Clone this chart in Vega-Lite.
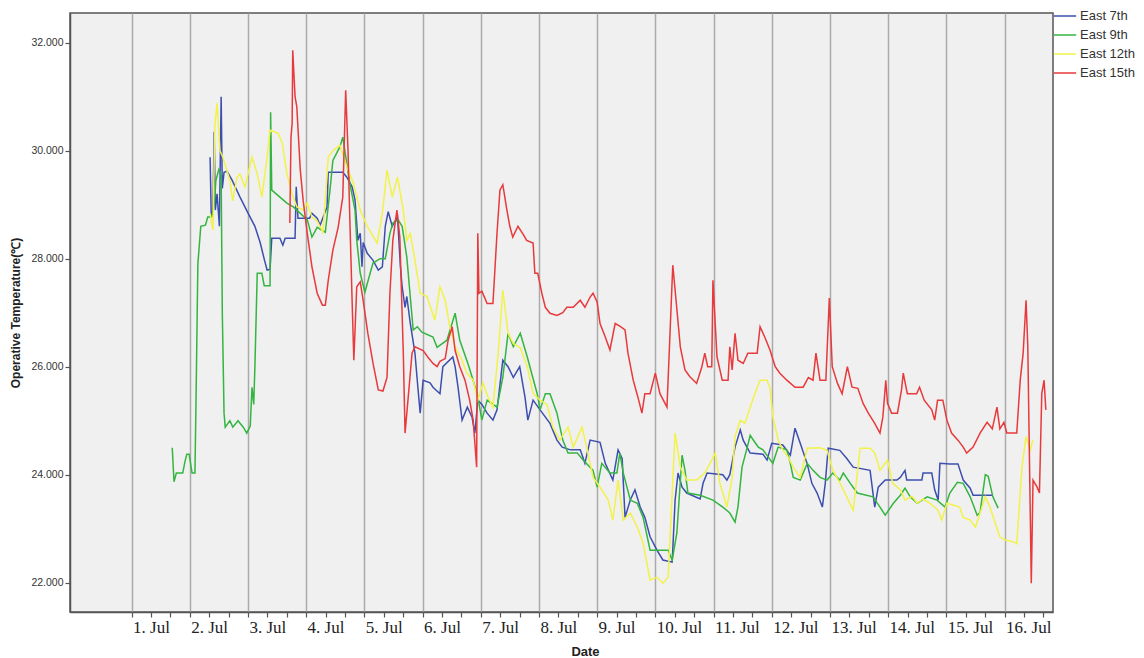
{
  "$schema": "https://vega.github.io/schema/vega-lite/v6.json",
  "width": 983,
  "height": 599,
  "autosize": {"type": "none"},
  "padding": {"left": 70, "top": 13, "right": 91, "bottom": 46},
  "background": "#ffffff",
  "config": {
    "view": {"fill": "#F0F0F0", "stroke": "#555555", "strokeWidth": 1.5},
    "axis": {"domainColor": "#555555", "tickColor": "#555555", "domainWidth": 1.5}
  },
  "data": {"values": [
    {"series":"East 7th","day":2.35,"temp":29.88},{"series":"East 7th","day":2.37,"temp":28.8},{"series":"East 7th","day":2.40,"temp":28.9},{"series":"East 7th","day":2.42,"temp":30.35},{"series":"East 7th","day":2.44,"temp":28.9},{"series":"East 7th","day":2.47,"temp":29.2},{"series":"East 7th","day":2.51,"temp":28.6},{"series":"East 7th","day":2.54,"temp":31.0},{"series":"East 7th","day":2.56,"temp":29.3},{"series":"East 7th","day":2.59,"temp":29.6},{"series":"East 7th","day":2.64,"temp":29.62},{"series":"East 7th","day":2.73,"temp":29.45},{"series":"East 7th","day":2.86,"temp":29.15},{"series":"East 7th","day":3.00,"temp":28.85},{"series":"East 7th","day":3.12,"temp":28.6},{"series":"East 7th","day":3.21,"temp":28.3},{"series":"East 7th","day":3.29,"temp":27.95},{"series":"East 7th","day":3.33,"temp":27.79},{"series":"East 7th","day":3.38,"temp":27.8},{"series":"East 7th","day":3.41,"temp":28.38},{"series":"East 7th","day":3.55,"temp":28.38},{"series":"East 7th","day":3.60,"temp":28.25},{"series":"East 7th","day":3.64,"temp":28.38},{"series":"East 7th","day":3.81,"temp":28.38},{"series":"East 7th","day":3.83,"temp":29.33},{"series":"East 7th","day":3.86,"temp":28.75},{"series":"East 7th","day":4.06,"temp":28.75},{"series":"East 7th","day":4.10,"temp":28.84},{"series":"East 7th","day":4.19,"temp":28.75},{"series":"East 7th","day":4.24,"temp":28.62},{"series":"East 7th","day":4.36,"temp":28.96},{"series":"East 7th","day":4.38,"temp":29.6},{"series":"East 7th","day":4.63,"temp":29.6},{"series":"East 7th","day":4.70,"temp":29.51},{"series":"East 7th","day":4.79,"temp":29.33},{"series":"East 7th","day":4.84,"temp":29.09},{"series":"East 7th","day":4.89,"temp":28.34},{"series":"East 7th","day":4.93,"temp":28.47},{"series":"East 7th","day":4.96,"temp":27.85},{"series":"East 7th","day":4.98,"temp":28.3},{"series":"East 7th","day":5.05,"temp":28.1},{"series":"East 7th","day":5.15,"temp":27.97},{"series":"East 7th","day":5.24,"temp":27.79},{"series":"East 7th","day":5.31,"temp":27.85},{"series":"East 7th","day":5.36,"temp":28.6},{"series":"East 7th","day":5.41,"temp":28.87},{"series":"East 7th","day":5.48,"temp":28.6},{"series":"East 7th","day":5.57,"temp":28.78},{"series":"East 7th","day":5.62,"temp":27.85},{"series":"East 7th","day":5.65,"temp":27.48},{"series":"East 7th","day":5.70,"temp":27.1},{"series":"East 7th","day":5.73,"temp":27.3},{"series":"East 7th","day":5.79,"temp":26.8},{"series":"East 7th","day":5.87,"temp":26.25},{"series":"East 7th","day":5.92,"temp":25.62},{"series":"East 7th","day":5.96,"temp":25.14},{"series":"East 7th","day":6.01,"temp":25.75},{"series":"East 7th","day":6.13,"temp":25.7},{"series":"East 7th","day":6.18,"temp":25.62},{"series":"East 7th","day":6.30,"temp":25.5},{"series":"East 7th","day":6.35,"temp":26.0},{"series":"East 7th","day":6.52,"temp":26.18},{"series":"East 7th","day":6.56,"temp":26.0},{"series":"East 7th","day":6.61,"temp":25.62},{"series":"East 7th","day":6.68,"temp":25.01},{"series":"East 7th","day":6.77,"temp":25.25},{"series":"East 7th","day":6.85,"temp":25.07},{"series":"East 7th","day":6.90,"temp":24.77},{"series":"East 7th","day":6.95,"temp":25.38},{"series":"East 7th","day":7.02,"temp":25.3},{"series":"East 7th","day":7.11,"temp":25.14},{"series":"East 7th","day":7.21,"temp":25.01},{"series":"East 7th","day":7.28,"temp":25.2},{"series":"East 7th","day":7.38,"temp":26.12},{"series":"East 7th","day":7.47,"temp":26.0},{"series":"East 7th","day":7.56,"temp":25.8},{"series":"East 7th","day":7.67,"temp":26.0},{"series":"East 7th","day":7.76,"temp":25.44},{"series":"East 7th","day":7.81,"temp":25.01},{"series":"East 7th","day":7.90,"temp":25.38},{"series":"East 7th","day":8.02,"temp":25.2},{"series":"East 7th","day":8.19,"temp":24.95},{"series":"East 7th","day":8.31,"temp":24.64},{"series":"East 7th","day":8.40,"temp":24.51},{"series":"East 7th","day":8.54,"temp":24.46},{"series":"East 7th","day":8.71,"temp":24.46},{"series":"East 7th","day":8.79,"temp":24.21},{"series":"East 7th","day":8.88,"temp":24.64},{"series":"East 7th","day":9.05,"temp":24.6},{"series":"East 7th","day":9.14,"temp":24.21},{"series":"East 7th","day":9.27,"temp":23.9},{"series":"East 7th","day":9.36,"temp":24.46},{"series":"East 7th","day":9.43,"temp":24.3},{"series":"East 7th","day":9.48,"temp":23.21},{"series":"East 7th","day":9.57,"temp":23.53},{"series":"East 7th","day":9.65,"temp":23.72},{"series":"East 7th","day":9.74,"temp":23.4},{"series":"East 7th","day":9.82,"temp":23.21},{"series":"East 7th","day":9.91,"temp":22.85},{"series":"East 7th","day":10.03,"temp":22.6},{"series":"East 7th","day":10.13,"temp":22.42},{"series":"East 7th","day":10.29,"temp":22.38},{"series":"East 7th","day":10.34,"temp":23.53},{"series":"East 7th","day":10.39,"temp":24.03},{"series":"East 7th","day":10.46,"temp":23.77},{"series":"East 7th","day":10.54,"temp":23.66},{"series":"East 7th","day":10.77,"temp":23.55},{"series":"East 7th","day":10.82,"temp":23.84},{"series":"East 7th","day":10.89,"temp":24.03},{"series":"East 7th","day":11.16,"temp":24.0},{"series":"East 7th","day":11.23,"temp":23.9},{"series":"East 7th","day":11.28,"temp":24.0},{"series":"East 7th","day":11.37,"temp":24.51},{"series":"East 7th","day":11.46,"temp":24.83},{"series":"East 7th","day":11.51,"temp":24.64},{"series":"East 7th","day":11.63,"temp":24.4},{"series":"East 7th","day":11.85,"temp":24.38},{"series":"East 7th","day":11.92,"temp":24.27},{"series":"East 7th","day":12.00,"temp":24.58},{"series":"East 7th","day":12.19,"temp":24.55},{"series":"East 7th","day":12.32,"temp":24.36},{"series":"East 7th","day":12.40,"temp":24.86},{"series":"East 7th","day":12.49,"temp":24.58},{"series":"East 7th","day":12.61,"temp":24.2},{"series":"East 7th","day":12.69,"temp":23.84},{"series":"East 7th","day":12.78,"temp":23.66},{"series":"East 7th","day":12.87,"temp":23.4},{"series":"East 7th","day":12.92,"temp":23.84},{"series":"East 7th","day":12.97,"temp":24.49},{"series":"East 7th","day":13.17,"temp":24.45},{"series":"East 7th","day":13.29,"temp":24.3},{"series":"East 7th","day":13.40,"temp":24.14},{"series":"East 7th","day":13.69,"temp":24.08},{"series":"East 7th","day":13.77,"temp":23.4},{"series":"East 7th","day":13.83,"temp":23.77},{"series":"East 7th","day":13.95,"temp":23.9},{"series":"East 7th","day":14.15,"temp":23.9},{"series":"East 7th","day":14.21,"temp":23.95},{"series":"East 7th","day":14.29,"temp":24.08},{"series":"East 7th","day":14.32,"temp":23.9},{"series":"East 7th","day":14.58,"temp":23.9},{"series":"East 7th","day":14.60,"temp":24.03},{"series":"East 7th","day":14.75,"temp":24.03},{"series":"East 7th","day":14.80,"temp":23.72},{"series":"East 7th","day":14.86,"temp":23.53},{"series":"East 7th","day":14.89,"temp":24.21},{"series":"East 7th","day":15.06,"temp":24.2},{"series":"East 7th","day":15.20,"temp":24.2},{"series":"East 7th","day":15.29,"temp":23.9},{"series":"East 7th","day":15.41,"temp":23.75},{"series":"East 7th","day":15.46,"temp":23.62},{"series":"East 7th","day":15.80,"temp":23.62},

    {"series":"East 9th","day":1.70,"temp":24.5},{"series":"East 9th","day":1.73,"temp":23.87},{"series":"East 9th","day":1.77,"temp":24.03},{"series":"East 9th","day":1.88,"temp":24.03},{"series":"East 9th","day":1.92,"temp":24.25},{"series":"East 9th","day":1.95,"temp":24.38},{"series":"East 9th","day":1.99,"temp":24.38},{"series":"East 9th","day":2.04,"temp":24.03},{"series":"East 9th","day":2.09,"temp":24.03},{"series":"East 9th","day":2.11,"temp":25.5},{"series":"East 9th","day":2.14,"temp":27.9},{"series":"East 9th","day":2.19,"temp":28.6},{"series":"East 9th","day":2.27,"temp":28.62},{"series":"East 9th","day":2.31,"temp":28.77},{"series":"East 9th","day":2.38,"temp":28.77},{"series":"East 9th","day":2.42,"temp":29.0},{"series":"East 9th","day":2.45,"temp":29.45},{"series":"East 9th","day":2.50,"temp":29.65},{"series":"East 9th","day":2.54,"temp":29.55},{"series":"East 9th","day":2.56,"temp":27.0},{"series":"East 9th","day":2.59,"temp":25.14},{"series":"East 9th","day":2.61,"temp":24.88},{"series":"East 9th","day":2.69,"temp":25.0},{"series":"East 9th","day":2.74,"temp":24.88},{"series":"East 9th","day":2.83,"temp":25.0},{"series":"East 9th","day":2.92,"temp":24.88},{"series":"East 9th","day":2.98,"temp":24.77},{"series":"East 9th","day":3.04,"temp":24.9},{"series":"East 9th","day":3.07,"temp":25.62},{"series":"East 9th","day":3.10,"temp":25.3},{"series":"East 9th","day":3.12,"temp":26.0},{"series":"East 9th","day":3.16,"temp":27.73},{"series":"East 9th","day":3.24,"temp":27.73},{"series":"East 9th","day":3.28,"temp":27.5},{"series":"East 9th","day":3.38,"temp":27.5},{"series":"East 9th","day":3.39,"temp":30.71},{"series":"East 9th","day":3.41,"temp":29.27},{"series":"East 9th","day":3.55,"temp":29.14},{"series":"East 9th","day":3.67,"temp":29.03},{"series":"East 9th","day":3.78,"temp":28.96},{"series":"East 9th","day":3.90,"temp":28.84},{"series":"East 9th","day":4.02,"temp":28.72},{"series":"East 9th","day":4.10,"temp":28.4},{"series":"East 9th","day":4.19,"temp":28.58},{"series":"East 9th","day":4.33,"temp":28.49},{"series":"East 9th","day":4.41,"temp":29.27},{"series":"East 9th","day":4.46,"temp":29.82},{"series":"East 9th","day":4.58,"temp":30.07},{"series":"East 9th","day":4.63,"temp":30.25},{"series":"East 9th","day":4.75,"temp":29.4},{"series":"East 9th","day":4.84,"temp":28.9},{"series":"East 9th","day":4.87,"temp":28.34},{"series":"East 9th","day":4.93,"temp":27.73},{"series":"East 9th","day":5.01,"temp":27.38},{"series":"East 9th","day":5.10,"temp":27.73},{"series":"East 9th","day":5.15,"temp":27.92},{"series":"East 9th","day":5.27,"temp":28.0},{"series":"East 9th","day":5.36,"temp":28.0},{"series":"East 9th","day":5.44,"temp":28.47},{"series":"East 9th","day":5.49,"temp":28.66},{"series":"East 9th","day":5.58,"temp":28.72},{"series":"East 9th","day":5.65,"temp":28.6},{"series":"East 9th","day":5.73,"temp":28.03},{"series":"East 9th","day":5.79,"temp":27.29},{"series":"East 9th","day":5.84,"temp":26.68},{"series":"East 9th","day":5.91,"temp":26.74},{"series":"East 9th","day":5.99,"temp":26.64},{"series":"East 9th","day":6.18,"temp":26.55},{"series":"East 9th","day":6.25,"temp":26.36},{"series":"East 9th","day":6.42,"temp":26.49},{"series":"East 9th","day":6.56,"temp":26.99},{"series":"East 9th","day":6.64,"temp":26.49},{"series":"East 9th","day":6.78,"temp":26.06},{"series":"East 9th","day":6.94,"temp":25.5},{"series":"East 9th","day":7.02,"temp":25.01},{"series":"East 9th","day":7.11,"temp":25.38},{"series":"East 9th","day":7.28,"temp":25.25},{"series":"East 9th","day":7.38,"temp":25.8},{"series":"East 9th","day":7.47,"temp":26.62},{"series":"East 9th","day":7.56,"temp":26.37},{"series":"East 9th","day":7.68,"temp":26.62},{"series":"East 9th","day":7.80,"temp":26.18},{"series":"East 9th","day":7.97,"temp":25.5},{"series":"East 9th","day":8.02,"temp":25.2},{"series":"East 9th","day":8.11,"temp":25.5},{"series":"East 9th","day":8.19,"temp":25.5},{"series":"East 9th","day":8.31,"temp":25.14},{"series":"East 9th","day":8.41,"temp":24.64},{"series":"East 9th","day":8.50,"temp":24.4},{"series":"East 9th","day":8.66,"temp":24.4},{"series":"East 9th","day":8.76,"temp":24.27},{"series":"East 9th","day":8.93,"temp":24.08},{"series":"East 9th","day":9.00,"temp":23.77},{"series":"East 9th","day":9.08,"temp":24.21},{"series":"East 9th","day":9.22,"temp":24.03},{"series":"East 9th","day":9.34,"temp":24.03},{"series":"East 9th","day":9.39,"temp":24.4},{"series":"East 9th","day":9.45,"temp":24.03},{"series":"East 9th","day":9.57,"temp":23.53},{"series":"East 9th","day":9.69,"temp":23.47},{"series":"East 9th","day":9.79,"temp":23.21},{"series":"East 9th","day":9.91,"temp":22.6},{"series":"East 9th","day":10.08,"temp":22.6},{"series":"East 9th","day":10.22,"temp":22.6},{"series":"East 9th","day":10.29,"temp":22.42},{"series":"East 9th","day":10.37,"temp":22.92},{"series":"East 9th","day":10.46,"temp":24.36},{"series":"East 9th","day":10.51,"temp":24.08},{"series":"East 9th","day":10.56,"temp":23.66},{"series":"East 9th","day":10.77,"temp":23.62},{"series":"East 9th","day":10.99,"temp":23.53},{"series":"East 9th","day":11.16,"temp":23.4},{"series":"East 9th","day":11.28,"temp":23.29},{"series":"East 9th","day":11.37,"temp":23.12},{"series":"East 9th","day":11.42,"temp":23.4},{"series":"East 9th","day":11.49,"temp":24.14},{"series":"East 9th","day":11.58,"temp":24.51},{"series":"East 9th","day":11.63,"temp":24.73},{"series":"East 9th","day":11.71,"temp":24.6},{"series":"East 9th","day":11.77,"temp":24.51},{"series":"East 9th","day":11.85,"temp":24.46},{"series":"East 9th","day":12.02,"temp":24.21},{"series":"East 9th","day":12.11,"temp":24.51},{"series":"East 9th","day":12.26,"temp":24.46},{"series":"East 9th","day":12.32,"temp":24.21},{"series":"East 9th","day":12.37,"temp":23.95},{"series":"East 9th","day":12.49,"temp":23.9},{"series":"East 9th","day":12.61,"temp":24.21},{"series":"East 9th","day":12.71,"temp":24.08},{"series":"East 9th","day":12.83,"temp":23.95},{"series":"East 9th","day":12.95,"temp":23.9},{"series":"East 9th","day":13.05,"temp":24.03},{"series":"East 9th","day":13.17,"temp":23.9},{"series":"East 9th","day":13.23,"temp":24.03},{"series":"East 9th","day":13.35,"temp":23.84},{"series":"East 9th","day":13.47,"temp":23.66},{"series":"East 9th","day":13.74,"temp":23.59},{"series":"East 9th","day":13.86,"temp":23.4},{"series":"East 9th","day":13.95,"temp":23.25},{"series":"East 9th","day":14.09,"temp":23.47},{"series":"East 9th","day":14.21,"temp":23.62},{"series":"East 9th","day":14.29,"temp":23.75},{"series":"East 9th","day":14.38,"temp":23.59},{"series":"East 9th","day":14.50,"temp":23.47},{"series":"East 9th","day":14.67,"temp":23.59},{"series":"East 9th","day":14.84,"temp":23.53},{"series":"East 9th","day":14.98,"temp":23.4},{"series":"East 9th","day":15.06,"temp":23.66},{"series":"East 9th","day":15.19,"temp":23.86},{"series":"East 9th","day":15.29,"temp":23.84},{"series":"East 9th","day":15.41,"temp":23.59},{"series":"East 9th","day":15.53,"temp":23.25},{"series":"East 9th","day":15.58,"temp":23.3},{"series":"East 9th","day":15.67,"temp":24.0},{"series":"East 9th","day":15.72,"temp":23.97},{"series":"East 9th","day":15.80,"temp":23.59},{"series":"East 9th","day":15.89,"temp":23.38},

    {"series":"East 12th","day":2.35,"temp":28.84},{"series":"East 12th","day":2.40,"temp":28.53},{"series":"East 12th","day":2.43,"temp":30.44},{"series":"East 12th","day":2.47,"temp":30.88},{"series":"East 12th","day":2.52,"temp":30.0},{"series":"East 12th","day":2.57,"temp":29.88},{"series":"East 12th","day":2.69,"temp":29.45},{"series":"East 12th","day":2.74,"temp":29.07},{"series":"East 12th","day":2.81,"temp":29.5},{"series":"East 12th","day":2.86,"temp":29.57},{"series":"East 12th","day":2.95,"temp":29.33},{"series":"East 12th","day":3.07,"temp":29.88},{"series":"East 12th","day":3.16,"temp":29.57},{"series":"East 12th","day":3.24,"temp":29.14},{"series":"East 12th","day":3.33,"temp":29.88},{"series":"East 12th","day":3.38,"temp":30.38},{"series":"East 12th","day":3.52,"temp":30.32},{"series":"East 12th","day":3.59,"temp":30.14},{"series":"East 12th","day":3.67,"temp":29.57},{"series":"East 12th","day":3.76,"temp":29.2},{"series":"East 12th","day":3.84,"temp":28.96},{"series":"East 12th","day":3.95,"temp":28.9},{"series":"East 12th","day":4.02,"temp":29.03},{"series":"East 12th","day":4.10,"temp":28.77},{"series":"East 12th","day":4.19,"temp":28.7},{"series":"East 12th","day":4.29,"temp":28.49},{"series":"East 12th","day":4.38,"temp":29.88},{"series":"East 12th","day":4.46,"temp":30.0},{"series":"East 12th","day":4.58,"temp":30.1},{"series":"East 12th","day":4.70,"temp":29.7},{"series":"East 12th","day":4.81,"temp":29.4},{"series":"East 12th","day":4.93,"temp":28.9},{"series":"East 12th","day":5.05,"temp":28.6},{"series":"East 12th","day":5.22,"temp":28.29},{"series":"East 12th","day":5.31,"temp":28.84},{"series":"East 12th","day":5.39,"temp":29.64},{"series":"East 12th","day":5.48,"temp":29.14},{"series":"East 12th","day":5.57,"temp":29.51},{"series":"East 12th","day":5.67,"temp":28.9},{"series":"East 12th","day":5.73,"temp":28.34},{"series":"East 12th","day":5.79,"temp":28.47},{"series":"East 12th","day":5.87,"temp":27.97},{"series":"East 12th","day":5.96,"temp":27.36},{"series":"East 12th","day":6.08,"temp":27.3},{"series":"East 12th","day":6.21,"temp":26.86},{"series":"East 12th","day":6.30,"temp":27.48},{"series":"East 12th","day":6.39,"temp":27.23},{"series":"East 12th","day":6.47,"temp":26.74},{"series":"East 12th","day":6.56,"temp":26.37},{"series":"East 12th","day":6.68,"temp":26.12},{"series":"East 12th","day":6.76,"temp":25.88},{"series":"East 12th","day":6.87,"temp":25.75},{"series":"East 12th","day":6.95,"temp":25.38},{"series":"East 12th","day":7.04,"temp":25.7},{"series":"East 12th","day":7.12,"temp":25.45},{"series":"East 12th","day":7.21,"temp":25.25},{"series":"East 12th","day":7.30,"temp":26.25},{"series":"East 12th","day":7.38,"temp":27.42},{"series":"East 12th","day":7.47,"temp":26.62},{"series":"East 12th","day":7.56,"temp":26.43},{"series":"East 12th","day":7.68,"temp":26.35},{"series":"East 12th","day":7.80,"temp":26.0},{"series":"East 12th","day":7.90,"temp":25.5},{"series":"East 12th","day":8.02,"temp":25.38},{"series":"East 12th","day":8.14,"temp":25.3},{"series":"East 12th","day":8.24,"temp":24.88},{"series":"East 12th","day":8.36,"temp":24.64},{"series":"East 12th","day":8.50,"temp":24.88},{"series":"East 12th","day":8.59,"temp":24.51},{"series":"East 12th","day":8.74,"temp":24.88},{"series":"East 12th","day":8.83,"temp":24.46},{"series":"East 12th","day":8.93,"temp":23.95},{"series":"East 12th","day":9.05,"temp":23.77},{"series":"East 12th","day":9.19,"temp":23.53},{"series":"East 12th","day":9.27,"temp":23.16},{"series":"East 12th","day":9.36,"temp":23.9},{"series":"East 12th","day":9.45,"temp":23.16},{"series":"East 12th","day":9.57,"temp":23.29},{"series":"East 12th","day":9.69,"temp":23.03},{"series":"East 12th","day":9.79,"temp":22.73},{"series":"East 12th","day":9.91,"temp":22.05},{"series":"East 12th","day":10.03,"temp":22.1},{"series":"East 12th","day":10.13,"temp":21.99},{"series":"East 12th","day":10.22,"temp":22.1},{"series":"East 12th","day":10.34,"temp":24.77},{"series":"East 12th","day":10.43,"temp":24.14},{"series":"East 12th","day":10.54,"temp":23.9},{"series":"East 12th","day":10.71,"temp":23.9},{"series":"East 12th","day":10.85,"temp":24.03},{"series":"East 12th","day":10.94,"temp":24.21},{"series":"East 12th","day":11.03,"temp":24.4},{"series":"East 12th","day":11.11,"temp":23.84},{"series":"East 12th","day":11.23,"temp":23.4},{"series":"East 12th","day":11.32,"temp":23.95},{"series":"East 12th","day":11.37,"temp":24.71},{"series":"East 12th","day":11.46,"temp":25.01},{"series":"East 12th","day":11.54,"temp":24.95},{"series":"East 12th","day":11.63,"temp":25.25},{"series":"East 12th","day":11.71,"temp":25.5},{"series":"East 12th","day":11.80,"temp":25.75},{"series":"East 12th","day":11.92,"temp":25.75},{"series":"East 12th","day":11.97,"temp":25.6},{"series":"East 12th","day":12.02,"temp":25.07},{"series":"East 12th","day":12.11,"temp":24.64},{"series":"East 12th","day":12.19,"temp":24.46},{"series":"East 12th","day":12.28,"temp":24.33},{"series":"East 12th","day":12.37,"temp":24.14},{"series":"East 12th","day":12.49,"temp":23.95},{"series":"East 12th","day":12.61,"temp":24.49},{"series":"East 12th","day":12.83,"temp":24.5},{"series":"East 12th","day":12.95,"temp":24.45},{"series":"East 12th","day":13.05,"temp":24.08},{"series":"East 12th","day":13.17,"temp":23.85},{"series":"East 12th","day":13.29,"temp":23.59},{"series":"East 12th","day":13.40,"temp":23.34},{"series":"East 12th","day":13.52,"temp":24.49},{"series":"East 12th","day":13.69,"temp":24.49},{"series":"East 12th","day":13.77,"temp":24.4},{"series":"East 12th","day":13.86,"temp":24.08},{"series":"East 12th","day":13.99,"temp":24.27},{"series":"East 12th","day":14.08,"temp":23.84},{"series":"East 12th","day":14.21,"temp":23.72},{"series":"East 12th","day":14.29,"temp":23.53},{"series":"East 12th","day":14.41,"temp":23.6},{"series":"East 12th","day":14.50,"temp":23.47},{"series":"East 12th","day":14.60,"temp":23.55},{"series":"East 12th","day":14.72,"temp":23.47},{"series":"East 12th","day":14.86,"temp":23.34},{"series":"East 12th","day":14.92,"temp":23.16},{"series":"East 12th","day":15.01,"temp":23.47},{"series":"East 12th","day":15.23,"temp":23.4},{"series":"East 12th","day":15.29,"temp":23.21},{"series":"East 12th","day":15.41,"temp":23.16},{"series":"East 12th","day":15.50,"temp":23.03},{"series":"East 12th","day":15.58,"temp":23.29},{"series":"East 12th","day":15.67,"temp":23.59},{"series":"East 12th","day":15.75,"temp":23.4},{"series":"East 12th","day":15.84,"temp":23.1},{"series":"East 12th","day":15.92,"temp":22.85},{"series":"East 12th","day":16.01,"temp":22.79},{"series":"East 12th","day":16.15,"temp":22.76},{"series":"East 12th","day":16.21,"temp":22.72},{"series":"East 12th","day":16.30,"temp":24.14},{"series":"East 12th","day":16.37,"temp":24.71},{"series":"East 12th","day":16.44,"temp":24.46},{"series":"East 12th","day":16.49,"temp":24.64},

    {"series":"East 15th","day":3.72,"temp":28.66},{"series":"East 15th","day":3.74,"temp":30.25},{"series":"East 15th","day":3.76,"temp":30.51},{"series":"East 15th","day":3.77,"temp":31.86},{"series":"East 15th","day":3.81,"temp":31.0},{"series":"East 15th","day":3.84,"temp":30.81},{"series":"East 15th","day":3.90,"temp":29.64},{"series":"East 15th","day":3.95,"temp":29.07},{"series":"East 15th","day":4.02,"temp":28.47},{"series":"East 15th","day":4.10,"temp":27.85},{"series":"East 15th","day":4.19,"temp":27.36},{"series":"East 15th","day":4.28,"temp":27.14},{"series":"East 15th","day":4.33,"temp":27.14},{"series":"East 15th","day":4.38,"temp":27.6},{"series":"East 15th","day":4.46,"temp":28.16},{"series":"East 15th","day":4.55,"temp":28.58},{"series":"East 15th","day":4.63,"temp":29.14},{"series":"East 15th","day":4.68,"temp":31.12},{"series":"East 15th","day":4.72,"temp":30.0},{"series":"East 15th","day":4.75,"temp":28.78},{"series":"East 15th","day":4.79,"temp":27.23},{"series":"East 15th","day":4.82,"temp":26.12},{"series":"East 15th","day":4.87,"temp":27.48},{"series":"East 15th","day":4.93,"temp":27.57},{"series":"East 15th","day":4.98,"temp":27.23},{"series":"East 15th","day":5.06,"temp":26.62},{"series":"East 15th","day":5.15,"temp":26.06},{"series":"East 15th","day":5.24,"temp":25.57},{"series":"East 15th","day":5.32,"temp":25.55},{"series":"East 15th","day":5.39,"temp":25.8},{"series":"East 15th","day":5.44,"temp":27.36},{"series":"East 15th","day":5.49,"temp":28.34},{"series":"East 15th","day":5.56,"temp":28.9},{"series":"East 15th","day":5.61,"temp":28.4},{"series":"East 15th","day":5.67,"temp":26.25},{"series":"East 15th","day":5.70,"temp":24.77},{"series":"East 15th","day":5.75,"temp":25.38},{"series":"East 15th","day":5.82,"temp":26.25},{"series":"East 15th","day":5.87,"temp":26.37},{"series":"East 15th","day":6.01,"temp":26.3},{"series":"East 15th","day":6.09,"temp":26.18},{"series":"East 15th","day":6.18,"temp":26.06},{"series":"East 15th","day":6.25,"temp":26.0},{"series":"East 15th","day":6.30,"temp":26.1},{"series":"East 15th","day":6.39,"temp":26.15},{"series":"East 15th","day":6.44,"temp":26.49},{"series":"East 15th","day":6.51,"temp":26.74},{"series":"East 15th","day":6.56,"temp":26.3},{"series":"East 15th","day":6.64,"temp":26.0},{"series":"East 15th","day":6.73,"temp":25.75},{"series":"East 15th","day":6.81,"temp":25.38},{"series":"East 15th","day":6.87,"temp":25.01},{"series":"East 15th","day":6.93,"temp":24.14},{"series":"East 15th","day":6.95,"temp":28.47},{"series":"East 15th","day":6.97,"temp":27.36},{"series":"East 15th","day":7.02,"temp":27.4},{"series":"East 15th","day":7.11,"temp":27.17},{"series":"East 15th","day":7.21,"temp":27.17},{"series":"East 15th","day":7.28,"temp":28.47},{"series":"East 15th","day":7.33,"temp":29.27},{"series":"East 15th","day":7.38,"temp":29.37},{"series":"East 15th","day":7.45,"temp":28.9},{"series":"East 15th","day":7.50,"temp":28.6},{"series":"East 15th","day":7.55,"temp":28.4},{"series":"East 15th","day":7.64,"temp":28.6},{"series":"East 15th","day":7.73,"temp":28.45},{"series":"East 15th","day":7.79,"temp":28.34},{"series":"East 15th","day":7.90,"temp":28.29},{"series":"East 15th","day":7.93,"temp":27.73},{"series":"East 15th","day":7.98,"temp":27.73},{"series":"East 15th","day":8.05,"temp":27.36},{"series":"East 15th","day":8.11,"temp":27.1},{"series":"East 15th","day":8.19,"temp":26.99},{"series":"East 15th","day":8.31,"temp":26.95},{"series":"East 15th","day":8.41,"temp":27.0},{"series":"East 15th","day":8.48,"temp":27.1},{"series":"East 15th","day":8.59,"temp":27.1},{"series":"East 15th","day":8.71,"temp":27.23},{"series":"East 15th","day":8.79,"temp":27.1},{"series":"East 15th","day":8.88,"temp":27.29},{"series":"East 15th","day":8.93,"temp":27.36},{"series":"East 15th","day":9.00,"temp":27.2},{"series":"East 15th","day":9.05,"temp":26.8},{"series":"East 15th","day":9.14,"temp":26.55},{"series":"East 15th","day":9.22,"temp":26.31},{"series":"East 15th","day":9.31,"temp":26.8},{"series":"East 15th","day":9.39,"temp":26.75},{"series":"East 15th","day":9.48,"temp":26.68},{"series":"East 15th","day":9.53,"temp":26.25},{"series":"East 15th","day":9.62,"temp":25.75},{"series":"East 15th","day":9.70,"temp":25.44},{"series":"East 15th","day":9.77,"temp":25.14},{"series":"East 15th","day":9.82,"temp":25.5},{"series":"East 15th","day":9.91,"temp":25.5},{"series":"East 15th","day":10.00,"temp":25.88},{"series":"East 15th","day":10.08,"temp":25.5},{"series":"East 15th","day":10.20,"temp":25.25},{"series":"East 15th","day":10.25,"temp":26.55},{"series":"East 15th","day":10.30,"temp":27.88},{"series":"East 15th","day":10.34,"temp":27.42},{"series":"East 15th","day":10.43,"temp":26.36},{"series":"East 15th","day":10.51,"temp":25.94},{"series":"East 15th","day":10.59,"temp":25.82},{"series":"East 15th","day":10.71,"temp":25.69},{"series":"East 15th","day":10.80,"temp":26.0},{"series":"East 15th","day":10.85,"temp":26.25},{"series":"East 15th","day":10.90,"temp":26.0},{"series":"East 15th","day":10.97,"temp":26.0},{"series":"East 15th","day":10.99,"temp":27.6},{"series":"East 15th","day":11.06,"temp":26.18},{"series":"East 15th","day":11.15,"temp":25.75},{"series":"East 15th","day":11.25,"temp":25.75},{"series":"East 15th","day":11.28,"temp":26.37},{"series":"East 15th","day":11.32,"temp":25.94},{"series":"East 15th","day":11.37,"temp":26.62},{"series":"East 15th","day":11.42,"temp":26.12},{"series":"East 15th","day":11.51,"temp":26.06},{"series":"East 15th","day":11.59,"temp":26.25},{"series":"East 15th","day":11.75,"temp":26.25},{"series":"East 15th","day":11.80,"temp":26.74},{"series":"East 15th","day":11.88,"temp":26.55},{"series":"East 15th","day":11.97,"temp":26.31},{"series":"East 15th","day":12.06,"temp":26.0},{"series":"East 15th","day":12.14,"temp":25.88},{"series":"East 15th","day":12.26,"temp":25.75},{"series":"East 15th","day":12.40,"temp":25.62},{"series":"East 15th","day":12.54,"temp":25.62},{"series":"East 15th","day":12.63,"temp":25.8},{"series":"East 15th","day":12.71,"temp":25.75},{"series":"East 15th","day":12.76,"temp":26.25},{"series":"East 15th","day":12.83,"temp":25.75},{"series":"East 15th","day":12.93,"temp":25.75},{"series":"East 15th","day":12.99,"temp":27.27},{"series":"East 15th","day":13.04,"temp":26.0},{"series":"East 15th","day":13.13,"temp":25.69},{"series":"East 15th","day":13.21,"temp":25.5},{"series":"East 15th","day":13.30,"temp":26.0},{"series":"East 15th","day":13.38,"temp":25.62},{"series":"East 15th","day":13.48,"temp":25.6},{"series":"East 15th","day":13.57,"temp":25.32},{"series":"East 15th","day":13.66,"temp":25.14},{"series":"East 15th","day":13.77,"temp":24.95},{"series":"East 15th","day":13.86,"temp":24.77},{"series":"East 15th","day":13.91,"temp":25.07},{"series":"East 15th","day":13.96,"temp":25.75},{"series":"East 15th","day":13.99,"temp":25.32},{"series":"East 15th","day":14.06,"temp":25.14},{"series":"East 15th","day":14.16,"temp":25.14},{"series":"East 15th","day":14.23,"temp":25.57},{"series":"East 15th","day":14.26,"temp":25.88},{"series":"East 15th","day":14.33,"temp":25.5},{"series":"East 15th","day":14.49,"temp":25.5},{"series":"East 15th","day":14.54,"temp":25.62},{"series":"East 15th","day":14.62,"temp":25.38},{"series":"East 15th","day":14.75,"temp":25.2},{"series":"East 15th","day":14.80,"temp":25.01},{"series":"East 15th","day":14.85,"temp":25.38},{"series":"East 15th","day":14.94,"temp":25.38},{"series":"East 15th","day":15.01,"temp":25.01},{"series":"East 15th","day":15.09,"temp":24.77},{"series":"East 15th","day":15.20,"temp":24.64},{"series":"East 15th","day":15.29,"temp":24.51},{"series":"East 15th","day":15.35,"temp":24.4},{"series":"East 15th","day":15.46,"temp":24.51},{"series":"East 15th","day":15.58,"temp":24.77},{"series":"East 15th","day":15.70,"temp":24.97},{"series":"East 15th","day":15.79,"temp":24.85},{"series":"East 15th","day":15.87,"temp":25.25},{"series":"East 15th","day":15.92,"temp":24.85},{"series":"East 15th","day":15.99,"temp":24.97},{"series":"East 15th","day":16.04,"temp":24.77},{"series":"East 15th","day":16.21,"temp":24.77},{"series":"East 15th","day":16.27,"temp":25.75},{"series":"East 15th","day":16.32,"temp":26.25},{"series":"East 15th","day":16.37,"temp":27.23},{"series":"East 15th","day":16.40,"temp":26.37},{"series":"East 15th","day":16.46,"temp":21.99},{"series":"East 15th","day":16.49,"temp":23.9},{"series":"East 15th","day":16.56,"temp":23.77},{"series":"East 15th","day":16.60,"temp":23.66},{"series":"East 15th","day":16.64,"temp":25.5},{"series":"East 15th","day":16.68,"temp":25.75},{"series":"East 15th","day":16.71,"temp":25.2}
  ]},
  "mark": {"type": "line", "strokeWidth": 1.5, "clip": true},
  "encoding": {
    "x": {
      "field": "day", "type": "quantitative",
      "scale": {"domain": [-0.057, 16.833], "nice": false, "zero": false},
      "axis": {
        "title": "Date",
        "titleFont": "Liberation Sans", "titleFontSize": 13, "titleFontWeight": "bold", "titleColor": "#222222",
        "titleX": 515, "titlePadding": 10,
        "values": [1,1.3333333,1.6666667,2,2.3333333,2.6666667,3,3.3333333,3.6666667,4,4.3333333,4.6666667,5,5.3333333,5.6666667,6,6.3333333,6.6666667,7,7.3333333,7.6666667,8,8.3333333,8.6666667,9,9.3333333,9.6666667,10,10.3333333,10.6666667,11,11.3333333,11.6666667,12,12.3333333,12.6666667,13,13.3333333,13.6666667,14,14.3333333,14.6666667,15,15.3333333,15.6666667,16,16.3333333,16.6666667],
        "labelExpr": "datum.value % 1 == 0 ? datum.value + '. Jul' : ''",
        "labelFont": "Liberation Serif", "labelFontSize": 17, "labelColor": "#222222",
        "labelAlign": "left", "labelOffset": 1, "labelPadding": 2, "labelOverlap": false, "labelFlush": false, "labelBound": false,
        "tickSize": 5, "tickWidth": 1.2,
        "grid": true, "gridColor": "#AAAAAA", "gridWidth": 1.5,
        "gridOpacity": {"condition": {"test": "datum.value % 1 == 0", "value": 1}, "value": 0}
      }
    },
    "y": {
      "field": "temp", "type": "quantitative",
      "scale": {"domain": [21.457, 32.55], "nice": false, "zero": false},
      "axis": {
        "title": "Operative Temperature(\u2103)",
        "titleFont": "Liberation Sans", "titleFontSize": 12, "titleFontWeight": "bold", "titleColor": "#222222", "titlePadding": 8,
        "values": [22, 24, 26, 28, 30, 32], "format": ".3f",
        "labelFont": "Liberation Sans", "labelFontSize": 10.5, "labelColor": "#333333", "labelPadding": 2,
        "tickSize": 5, "tickWidth": 1.2, "grid": false
      }
    },
    "color": {
      "field": "series", "type": "nominal",
      "scale": {"domain": ["East 7th", "East 9th", "East 12th", "East 15th"], "range": ["#3D4FAE", "#33B540", "#F2F24A", "#E8393C"]},
      "legend": {
        "title": null, "orient": "none", "legendX": 983, "legendY": -9,
        "symbolType": "stroke", "symbolSize": 500, "symbolStrokeWidth": 1.5,
        "labelFont": "Liberation Sans", "labelFontSize": 13, "labelColor": "#333333", "labelOffset": 3,
        "rowPadding": -8, "padding": 0
      }
    }
  }
}
